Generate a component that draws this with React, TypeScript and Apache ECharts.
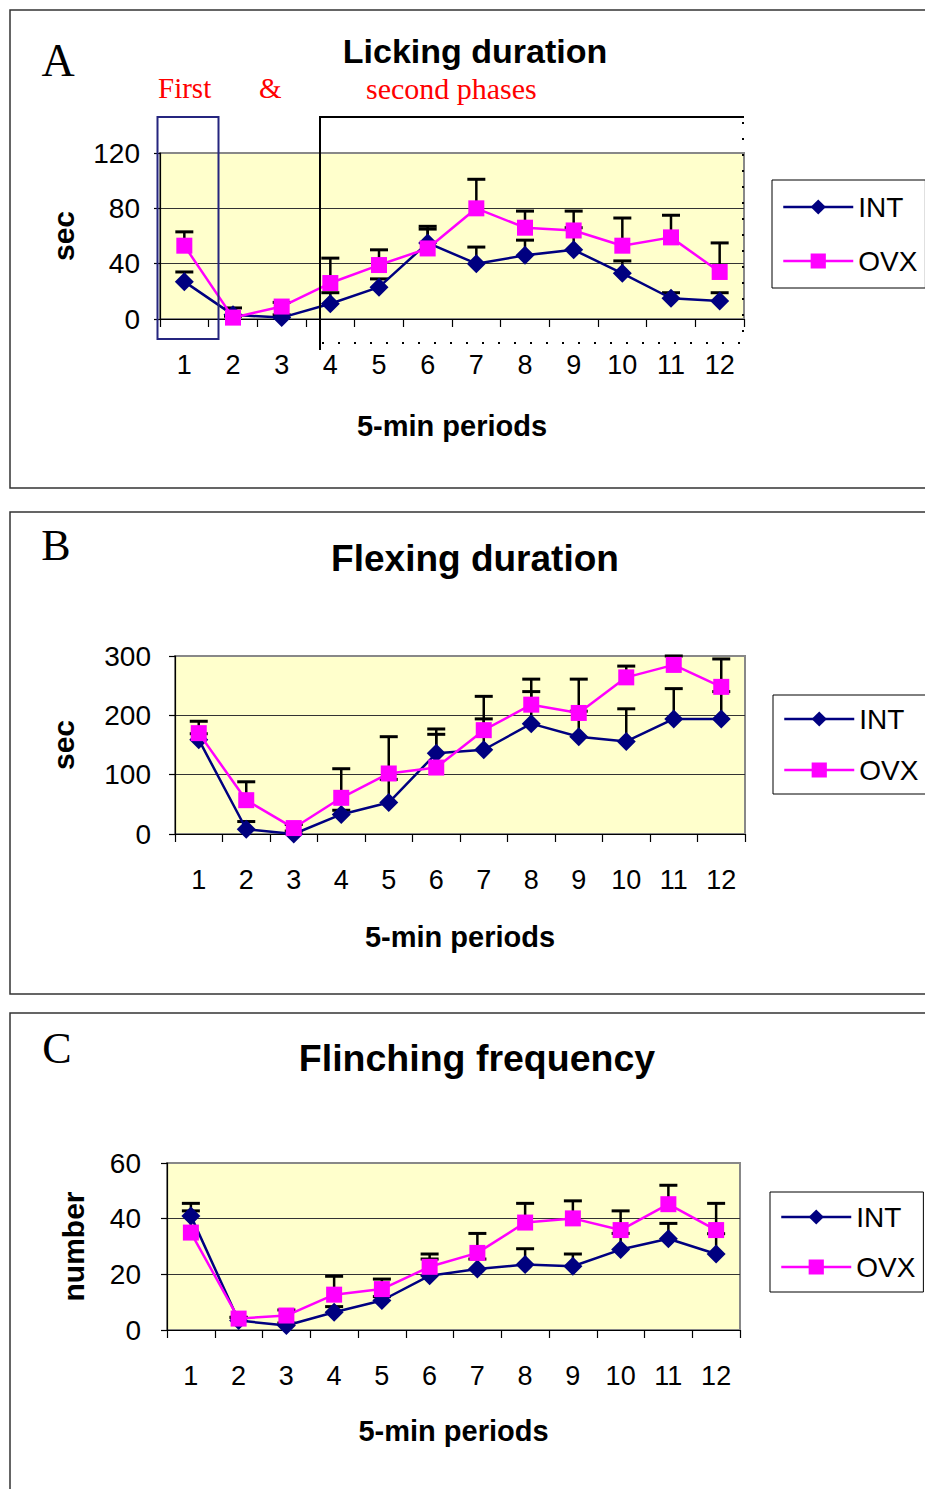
import React, { useEffect, useRef } from "react";
import * as echarts from "echarts";

const categories = ["1", "2", "3", "4", "5", "6", "7", "8", "9", "10", "11", "12"];

// Panel A: Licking duration (sec)
const intA = [27, 3, 1, 11, 23, 55, 40, 46, 50, 33, 15, 13];
const intAUpper = [34, 8, 3, 19, 29, 67, 52, 57, 66, 42, 19, 19];
const ovxA = [53, 1, 9, 26, 39, 51, 80, 66, 64, 53, 59, 34];
const ovxAUpper = [63, 2, 12, 44, 50, 65, 101, 78, 78, 73, 75, 55];

// Panel B: Flexing duration (sec)
const intB = [159, 8, 0, 33, 53, 136, 142, 186, 164, 156, 194, 194];
const intBUpper = [169, 21, 5, 40, 92, 177, 194, 240, 207, 211, 245, 240];
const ovxB = [170, 57, 10, 61, 102, 112, 175, 218, 204, 264, 285, 248];
const ovxBUpper = [190, 88, 16, 110, 164, 168, 232, 261, 261, 283, 300, 295];

// Panel C: Flinching frequency (number)
const intC = [41, 3.4, 1.6, 6.4, 10.6, 19.5, 21.9, 23.5, 22.9, 28.9, 32.8, 27.3];
const intCUpper = [45.5, 4.6, 2.5, 8.4, 12, 25.5, 25.5, 29.2, 27.3, 34.7, 38.3, 34.6];
const ovxC = [35, 4.1, 5.2, 12.7, 14.7, 22.7, 27.7, 38.6, 40.1, 35.9, 45.2, 35.9];
const ovxCUpper = [42.8, 4.5, 7.2, 19.3, 18.3, 27.3, 34.7, 45.5, 46.4, 42.8, 52, 45.5];

const yMaxes = [120, 300, 60];
const yIntervals = [40, 100, 20];
const yNames = ["sec", "sec", "number"];
const xName = "5-min periods";
const titles = ["Licking duration", "Flexing duration", "Flinching frequency"];
const panelLetters = ["A", "B", "C"];
const seriesNames = ["INT", "OVX"];

const SANS = "'Liberation Sans', Arial, sans-serif";
const SERIF = "'Liberation Serif', 'Times New Roman', serif";
const NAVY = "#000080";
const MAGENTA = "#FF00FF";

const grids = [
  { left: 160, top: 153, width: 584, height: 166 },
  { left: 175, top: 656, width: 570, height: 178 },
  { left: 167, top: 1163, width: 573, height: 167 },
];
const yLabelMargins = [20, 24, 26];
const yNameGaps = [82, 97, 79];
const xNameGaps = [92, 88, 86];
const legendPos = [
  { left: 772, top: 180, pad: 12, gap: 24 },
  { left: 773, top: 695, pad: 9, gap: 21 },
  { left: 770, top: 1192, pad: 10, gap: 20 },
];

const errRender = (params: any, api: any) => {
  const x = api.value(0);
  const v = api.value(1);
  const hi = api.value(2);
  const p0 = api.coord([x, v]);
  const p1 = api.coord([x, hi]);
  const w = 9;
  return {
    type: "group",
    children: [
      { type: "line", shape: { x1: p0[0], y1: p0[1], x2: p1[0], y2: p1[1] }, style: { stroke: "#000", lineWidth: 2.5 } },
      { type: "line", shape: { x1: p1[0] - w, y1: p1[1], x2: p1[0] + w, y2: p1[1] }, style: { stroke: "#000", lineWidth: 3 } },
    ],
  };
};

export default function App() {
  const ref = useRef<HTMLDivElement>(null);
  useEffect(() => {
    if (!ref.current) return;
    const chart = echarts.init(ref.current, null, { renderer: "svg" });
    const panels = [
      { int: intA, intU: intAUpper, ovx: ovxA, ovxU: ovxAUpper },
      { int: intB, intU: intBUpper, ovx: ovxB, ovxU: ovxBUpper },
      { int: intC, intU: intCUpper, ovx: ovxC, ovxU: ovxCUpper },
    ];
    const xAxes = grids.map((g, i) => ({
      type: "category",
      gridIndex: i,
      data: categories,
      boundaryGap: true,
      name: xName,
      nameLocation: "middle",
      nameGap: xNameGaps[i],
      nameTextStyle: { fontFamily: SANS, fontWeight: "bold", fontSize: 29, color: "#000" },
      axisLine: { lineStyle: { color: "#000", width: 1.2 } },
      axisTick: { show: true, length: 8, inside: false, lineStyle: { color: "#000", width: 1.2 } },
      axisLabel: { fontFamily: SANS, fontSize: 27, color: "#000", margin: 32, interval: 0 },
      splitLine: { show: false },
    }));
    const yAxes = grids.map((g, i) => ({
      type: "value",
      gridIndex: i,
      min: 0,
      max: yMaxes[i],
      interval: yIntervals[i],
      name: yNames[i],
      nameLocation: "middle",
      nameRotate: 90,
      nameGap: yNameGaps[i],
      nameTextStyle: { fontFamily: SANS, fontWeight: "bold", fontSize: 30, color: "#000" },
      axisLine: { show: true, lineStyle: { color: "#000", width: 1.2 } },
      axisTick: { show: true, length: 6, lineStyle: { color: "#000", width: 1.2 } },
      axisLabel: { fontFamily: SANS, fontSize: 28, color: "#000", margin: yLabelMargins[i] },
      splitLine: { show: true, lineStyle: { color: ["#000", "#333", "#333", "#888"], width: 1.2 } },
    }));
    const series: any[] = [];
    panels.forEach((p, i) => {
      series.push({
        type: "line",
        name: "INT",
        xAxisIndex: i,
        yAxisIndex: i,
        data: p.int,
        symbol: "diamond",
        symbolSize: 19,
        lineStyle: { color: NAVY, width: 2.5 },
        itemStyle: { color: NAVY },
        z: 3,
      });
      series.push({
        type: "line",
        name: "OVX",
        xAxisIndex: i,
        yAxisIndex: i,
        data: p.ovx,
        symbol: "rect",
        symbolSize: 16,
        lineStyle: { color: MAGENTA, width: 2.5 },
        itemStyle: { color: MAGENTA },
        z: 4,
      });
    });
    panels.forEach((p, i) => {
      series.push({
        type: "custom",
        name: "INT error",
        xAxisIndex: i,
        yAxisIndex: i,
        renderItem: errRender,
        encode: { x: 0, y: [1, 2] },
        data: categories.map((c, k) => [k, p.int[k], p.intU[k]]),
        z: 2,
        silent: true,
      });
      series.push({
        type: "custom",
        name: "OVX error",
        xAxisIndex: i,
        yAxisIndex: i,
        renderItem: errRender,
        encode: { x: 0, y: [1, 2] },
        data: categories.map((c, k) => [k, p.ovx[k], p.ovxU[k]]),
        z: 2,
        silent: true,
      });
    });
    const legends = legendPos.map((l) => ({
      show: true,
      left: l.left,
      top: l.top,
      orient: "vertical",
      data: seriesNames,
      itemWidth: 70,
      itemHeight: 19,
      itemGap: l.gap,
      itemTextGap: 4,
      selectedMode: false,
      padding: [l.pad, 8, l.pad, 10],
      borderColor: "#000",
      borderWidth: 1,
      backgroundColor: "#fff",
      lineStyle: { width: 2.5 },
      textStyle: { fontFamily: SANS, fontSize: 28, color: "#000", lineHeight: 30 },
    }));
    const graphic: any[] = [
      { type: "rect", shape: { x: 10, y: 10, width: 1000, height: 478 }, style: { fill: "none", stroke: "#333", lineWidth: 1.5 }, z: -10 },
      { type: "rect", shape: { x: 10, y: 512, width: 1000, height: 482 }, style: { fill: "none", stroke: "#333", lineWidth: 1.5 }, z: -10 },
      { type: "rect", shape: { x: 10, y: 1013, width: 1000, height: 500 }, style: { fill: "none", stroke: "#333", lineWidth: 1.5 }, z: -10 },
      { type: "text", x: 58, y: 60, style: { text: panelLetters[0], fontFamily: SERIF, fontSize: 46, fill: "#000", align: "center", verticalAlign: "middle" } },
      { type: "text", x: 56, y: 545, style: { text: panelLetters[1], fontFamily: SERIF, fontSize: 44, fill: "#000", align: "center", verticalAlign: "middle" } },
      { type: "text", x: 57, y: 1048, style: { text: panelLetters[2], fontFamily: SERIF, fontSize: 44, fill: "#000", align: "center", verticalAlign: "middle" } },
      { type: "text", x: 475, y: 51, style: { text: titles[0], fontFamily: SANS, fontWeight: "bold", fontSize: 34, fill: "#000", align: "center", verticalAlign: "middle" } },
      { type: "text", x: 475, y: 558, style: { text: titles[1], fontFamily: SANS, fontWeight: "bold", fontSize: 37, fill: "#000", align: "center", verticalAlign: "middle" } },
      { type: "text", x: 477, y: 1058, style: { text: titles[2], fontFamily: SANS, fontWeight: "bold", fontSize: 37.5, fill: "#000", align: "center", verticalAlign: "middle" } },
      { type: "text", x: 158, y: 88, style: { text: "First", fontFamily: SERIF, fontSize: 29, fill: "#FF0000", align: "left", verticalAlign: "middle" } },
      { type: "text", x: 259, y: 88, style: { text: "&", fontFamily: SERIF, fontSize: 29, fill: "#FF0000", align: "left", verticalAlign: "middle" } },
      { type: "text", x: 366, y: 88, style: { text: "second phases", fontFamily: SERIF, fontSize: 30, fill: "#FF0000", align: "left", verticalAlign: "middle" } },
      { type: "rect", shape: { x: 157.5, y: 117, width: 61, height: 222 }, style: { fill: "none", stroke: "#25257f", lineWidth: 2 }, z: 50 },
      { type: "line", shape: { x1: 319, y1: 117, x2: 744, y2: 117 }, style: { stroke: "#000", lineWidth: 2 }, z: 50 },
      { type: "line", shape: { x1: 320, y1: 117, x2: 320, y2: 350 }, style: { stroke: "#000", lineWidth: 2 }, z: 50 },
      { type: "line", shape: { x1: 743, y1: 122, x2: 743, y2: 342 }, style: { stroke: "#000", lineWidth: 2, lineDash: [2, 14] }, z: 50 },
      { type: "line", shape: { x1: 322, y1: 343, x2: 743, y2: 343 }, style: { stroke: "#000", lineWidth: 2, lineDash: [2, 14] }, z: 50 },
    ];
    chart.setOption({
      animation: false,
      backgroundColor: "#fff",
      grid: grids.map((g) => ({ ...g, show: true, backgroundColor: "#FFFFCC", borderColor: "#888", borderWidth: 2, containLabel: false })),
      xAxis: xAxes,
      yAxis: yAxes,
      legend: legends,
      series,
      graphic,
    });
    return () => chart.dispose();
  }, []);
  return <div ref={ref} style={{ position: "absolute", left: 0, top: 0, width: 925, height: 1489 }} />;
}
